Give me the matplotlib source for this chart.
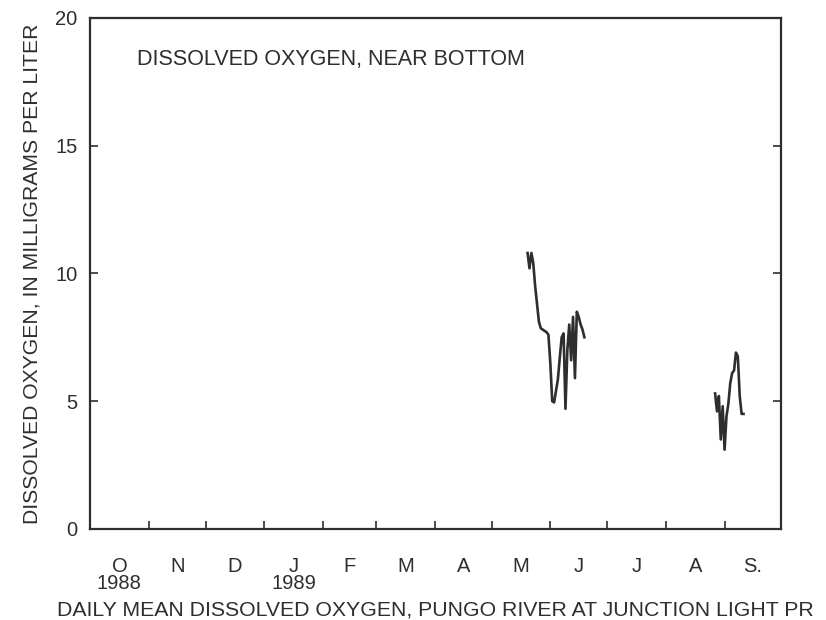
import numpy as np
import matplotlib.pyplot as plt
from matplotlib.ticker import FixedLocator, NullFormatter

plt.rcParams['font.family'] = ['Liberation Sans', 'DejaVu Sans']

# Water year Oct 1988 - Sep 1989, x = days since Oct 1 1988
month_starts = [0, 31, 61, 92, 123, 151, 182, 212, 243, 273, 304, 335, 365]
month_labels = ['O\n1988', 'N', 'D', 'J\n1989', 'F', 'M', 'A', 'M', 'J', 'J', 'A', 'S.']

# Daily mean dissolved oxygen, near bottom (mg/L) - two record segments
days_1 = [231, 232, 233, 234, 235, 236, 237, 238, 239, 240, 241, 242, 243, 244,
          245, 246, 247, 248, 249, 250, 251, 252, 253, 254, 255, 256, 257, 258,
          259, 260, 261]
do_1 = [10.8, 10.2, 10.8, 10.4, 9.5, 8.8, 8.1, 7.85, 7.8, 7.75, 7.7, 7.6, 6.5, 5.0,
        4.95, 5.4, 5.85, 6.7, 7.5, 7.65, 4.7, 7.0, 8.0, 6.6, 8.3, 5.9, 8.5, 8.3,
        8.0, 7.8, 7.5]

days_2 = [330, 331, 332, 333, 334, 335, 336, 337, 338, 339, 340, 341, 342, 343, 344, 345]
do_2 = [5.3, 4.6, 5.2, 3.5, 4.8, 3.1, 4.4, 4.9, 5.7, 6.1, 6.2, 6.9, 6.75, 5.2, 4.5, 4.5]

ink = '#2e2e2e'

fig = plt.figure(figsize=(8.26, 6.2), dpi=100)
ax = fig.add_axes([0.109, 0.147, 0.837, 0.824])

ax.plot(days_1, do_1, color=ink, linewidth=1.9)
ax.plot(days_2, do_2, color=ink, linewidth=1.9)

ax.set_xlim(0, 365)
ax.set_ylim(0, 20)

for s in ax.spines.values():
    s.set_linewidth(1.6)
    s.set_color(ink)

# month boundaries as ticks, labels centred in each month
mids = [(a + b) / 2 for a, b in zip(month_starts[:-1], month_starts[1:])]
ax.xaxis.set_major_locator(FixedLocator(month_starts))
ax.xaxis.set_major_formatter(NullFormatter())
ax.xaxis.set_minor_locator(FixedLocator(mids))
ax.set_xticklabels(month_labels, minor=True, fontsize=14.5, color=ink,
                   linespacing=0.9, va='top')
ax.tick_params(axis='x', which='major', direction='in', length=6, width=1.2,
               color=ink, top=False)
ax.tick_params(axis='x', which='minor', length=0, pad=20)

ax.set_yticks([0, 5, 10, 15, 20])
ax.tick_params(axis='y', direction='in', length=6, width=1.2, color=ink,
               right=True, labelsize=14.5, labelcolor=ink, pad=9)

ax.set_ylabel('DISSOLVED OXYGEN, IN MILLIGRAMS PER LITER', fontsize=15.2,
              color=ink, labelpad=10)
ax.set_xlabel('DAILY MEAN DISSOLVED OXYGEN, PUNGO RIVER AT JUNCTION LIGHT PR',
              fontsize=15.3, color=ink, labelpad=5)

ax.text(0.068, 0.918, 'DISSOLVED OXYGEN, NEAR BOTTOM', transform=ax.transAxes,
        fontsize=15.5, color=ink, va='center', ha='left')

fig.savefig('out.png', dpi=100)
